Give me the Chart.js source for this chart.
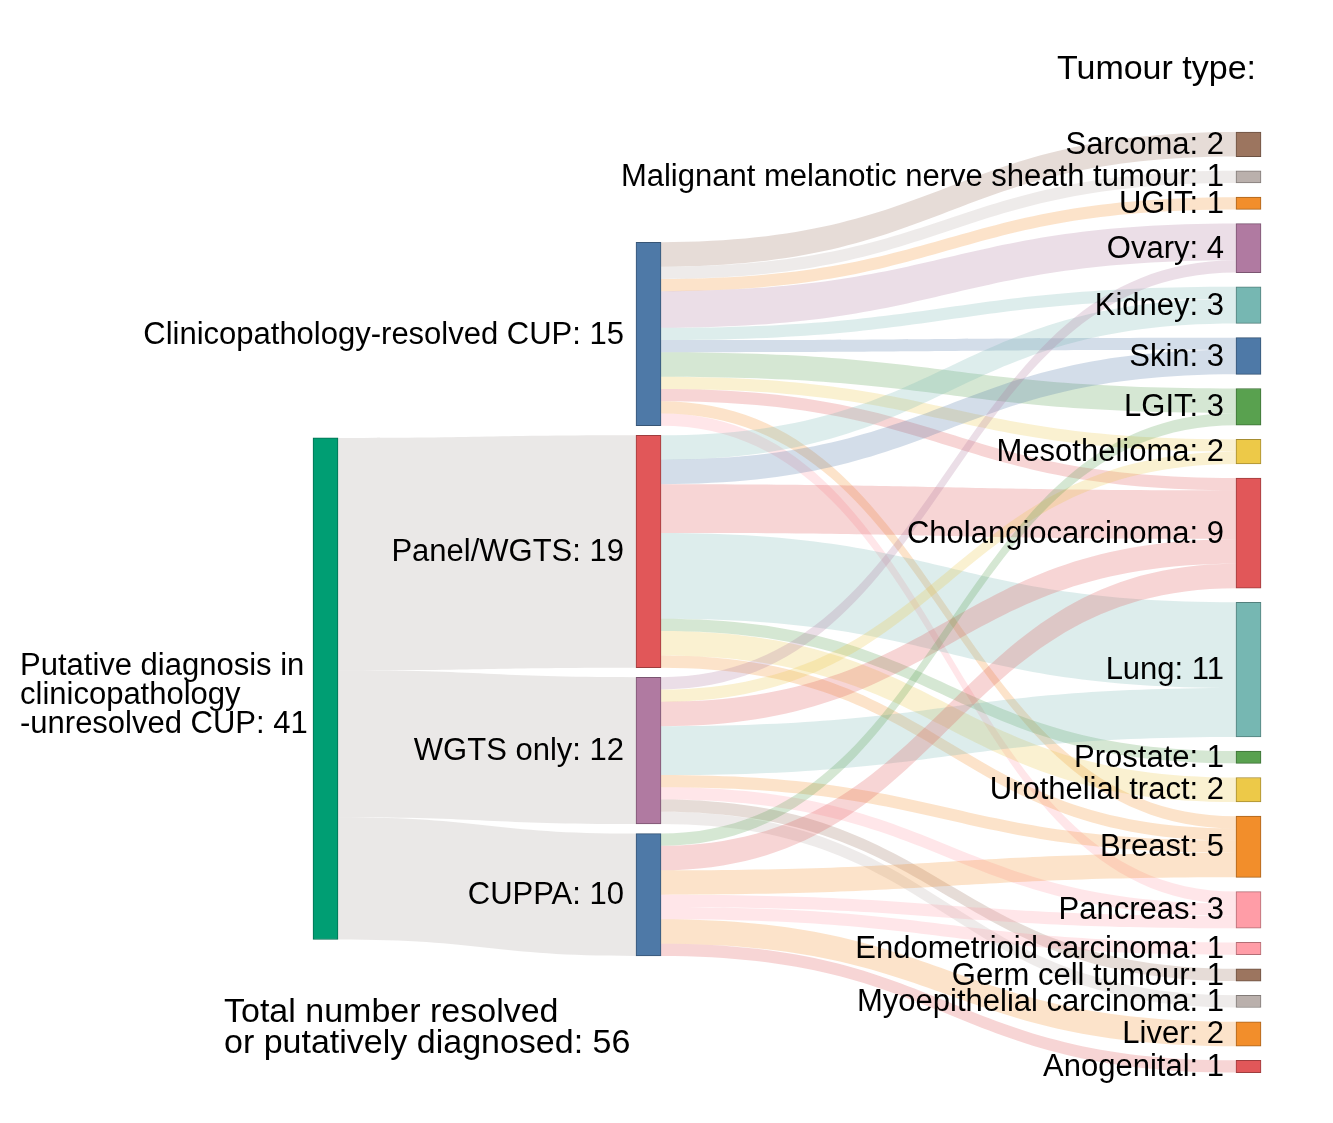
<!DOCTYPE html>
<html>
<head>
<meta charset="utf-8">
<script src="https://cdn.jsdelivr.net/npm/chart.js@4.4.0/dist/chart.umd.min.js"></script>
<style>
  html, body { margin: 0; padding: 0; background: #ffffff; }
  #wrap { width: 1333px; height: 1123px; position: relative; }
</style>
</head>
<body>
<div id="wrap"><canvas id="c" width="1333" height="1123"></canvas></div>
<script>
// ---------------- DATA ----------------
const rootNode = 'Putative diagnosis in clinicopathology-unresolved CUP';
const rootLabelLines = ['Putative diagnosis in', 'clinicopathology', '-unresolved CUP'];
const methods = ['Clinicopathology-resolved CUP', 'Panel/WGTS', 'WGTS only', 'CUPPA'];
const rootToMethod = [0, 19, 12, 10];

const tumourTypes = [
  'Sarcoma', 'Malignant melanotic nerve sheath tumour', 'UGIT', 'Ovary', 'Kidney', 'Skin',
  'LGIT', 'Mesothelioma', 'Cholangiocarcinoma', 'Lung', 'Prostate', 'Urothelial tract',
  'Breast', 'Pancreas', 'Endometrioid carcinoma', 'Germ cell tumour', 'Myoepithelial carcinoma',
  'Liver', 'Anogenital'
];
// cases per tumour type, by method (same order as tumourTypes)
const fromClinico = [2, 1, 1, 3, 1, 1, 2, 1, 1, 0, 0, 0, 1, 1, 0, 0, 0, 0, 0];
const fromPanel   = [0, 0, 0, 0, 2, 2, 0, 0, 4, 7, 1, 2, 1, 0, 0, 0, 0, 0, 0];
const fromWGTS    = [0, 0, 0, 1, 0, 0, 0, 1, 2, 4, 0, 0, 1, 1, 0, 1, 1, 0, 0];
const fromCUPPA   = [0, 0, 0, 0, 0, 0, 1, 0, 2, 0, 0, 0, 2, 1, 1, 0, 0, 2, 1];

const rootColor = '#009e73';
const methodColors = ['#4e79a7', '#e15759', '#b07aa1', '#4e79a7'];
const tumourColors = [
  '#9c755f', '#bab0ac', '#f28e2b', '#b07aa1', '#76b7b2', '#4e79a7',
  '#59a14f', '#edc948', '#e15759', '#76b7b2', '#59a14f', '#edc948',
  '#f28e2b', '#ff9da7', '#ff9da7', '#9c755f', '#bab0ac', '#f28e2b', '#e15759'
];
const tumourTitle = 'Tumour type:';
const footerLines = ['Total number resolved', 'or putatively diagnosed'];

// ---------------- LAYOUT (sankey, in value units) ----------------
const Y_MAX = 91.8;              // y-scale range in value units
const X_MAX = 1333;
const COL_X = [325.5, 648.5, 1248.5];
const COL_START = [35.8, 19.8, 10.8];
const COL_GAP = [0, 0.78, 1.16];
const NODE_W = 25;

const fromMethod = [fromClinico, fromPanel, fromWGTS, fromCUPPA];
const nodes = [];
nodes.push({ name: rootNode, col: 0, color: rootColor, value: rootToMethod.reduce((a, b) => a + b, 0) });
methods.forEach((m, i) => nodes.push({ name: m, col: 1, color: methodColors[i],
  value: Math.max(rootToMethod[i], fromMethod[i].reduce((a, b) => a + b, 0)) }));
tumourTypes.forEach((t, j) => nodes.push({ name: t, col: 2, color: tumourColors[j],
  value: fromMethod.reduce((s, arr) => s + arr[j], 0) }));

[0, 1, 2].forEach(col => {
  let y = COL_START[col];
  nodes.filter(n => n.col === col).forEach(n => {
    n.y0 = y; n.y1 = y + n.value; y = n.y1 + COL_GAP[col];
    n.outOff = n.y0; n.inOff = n.y0;
  });
});

function hexA(hex, a) {
  const r = parseInt(hex.slice(1, 3), 16), g = parseInt(hex.slice(3, 5), 16), b = parseInt(hex.slice(5, 7), 16);
  return `rgba(${r},${g},${b},${a})`;
}
function darker(hex, f) {
  const r = parseInt(hex.slice(1, 3), 16), g = parseInt(hex.slice(3, 5), 16), b = parseInt(hex.slice(5, 7), 16);
  return `rgb(${Math.round(r * f)},${Math.round(g * f)},${Math.round(b * f)})`;
}

const links = [];
rootToMethod.forEach((v, i) => { if (v > 0) links.push({ s: 0, t: 1 + i, v, color: 'rgba(186,180,174,0.3)' }); });
fromMethod.forEach((arr, i) => arr.forEach((v, j) => {
  if (v > 0) links.push({ s: 1 + i, t: 5 + j, v, color: hexA(tumourColors[j], 0.25) });
}));
links.forEach(l => {
  const s = nodes[l.s], t = nodes[l.t];
  l.sy0 = s.outOff; l.sy1 = s.outOff + l.v; s.outOff += l.v;
  l.ty0 = t.inOff; l.ty1 = t.inOff + l.v; t.inOff += l.v;
});

// ---------------- PLUGINS ----------------
const FONT = '"Liberation Sans", Arial, Helvetica, sans-serif';

const linkPlugin = {
  id: 'sankeyLinks',
  beforeDatasetsDraw(chart) {
    const xs = chart.scales.x, ys = chart.scales.y, ctx = chart.ctx;
    ctx.save();
    links.forEach(l => {
      const s = nodes[l.s], t = nodes[l.t];
      const x0 = xs.getPixelForValue(COL_X[s.col]) + NODE_W / 2;
      const x1 = xs.getPixelForValue(COL_X[t.col]) - NODE_W / 2;
      const xm = (x0 + x1) / 2;
      const a0 = ys.getPixelForValue(l.sy0), a1 = ys.getPixelForValue(l.sy1);
      const b0 = ys.getPixelForValue(l.ty0), b1 = ys.getPixelForValue(l.ty1);
      ctx.beginPath();
      ctx.moveTo(x0, a0);
      ctx.bezierCurveTo(xm, a0, xm, b0, x1, b0);
      ctx.lineTo(x1, b1);
      ctx.bezierCurveTo(xm, b1, xm, a1, x0, a1);
      ctx.closePath();
      ctx.fillStyle = l.color;
      ctx.fill();
    });
    ctx.restore();
  }
};

const labelPlugin = {
  id: 'sankeyLabels',
  afterDatasetsDraw(chart) {
    const xs = chart.scales.x, ys = chart.scales.y, ctx = chart.ctx;
    ctx.save();
    ctx.fillStyle = '#000000';
    ctx.textBaseline = 'middle';
    ctx.font = '31px ' + FONT;
    nodes.forEach((n) => {
      const cy = ys.getPixelForValue((n.y0 + n.y1) / 2);
      const xl = xs.getPixelForValue(COL_X[n.col]) - NODE_W / 2;
      if (n.col === 0) {
        ctx.textAlign = 'left';
        const lines = rootLabelLines.slice();
        lines[lines.length - 1] += ': ' + n.value;
        const lh = 29;
        lines.forEach((ln, k) => ctx.fillText(ln, 20, cy + 7 + (k - (lines.length - 1) / 2) * lh));
      } else {
        ctx.textAlign = 'right';
        ctx.fillText(n.name + ': ' + n.value, xl - 12, cy + 1);
      }
    });
    // column title
    ctx.font = '34px ' + FONT;
    ctx.textAlign = 'right';
    ctx.fillText(tumourTitle, xs.getPixelForValue(COL_X[2]) + NODE_W / 2 - 5, ys.getPixelForValue(5.7));
    // footer
    ctx.textAlign = 'left';
    const total = nodes.filter(n => n.col === 2).reduce((s, n) => s + n.value, 0);
    const fl = footerLines.slice();
    fl[fl.length - 1] += ': ' + total;
    fl.forEach((ln, k) => ctx.fillText(ln, 224, ys.getPixelForValue(82.75) + k * 31));
    ctx.restore();
  }
};

// ---------------- CHART ----------------
new Chart(document.getElementById('c'), {
  type: 'bar',
  data: {
    datasets: [{
      data: nodes.map(n => ({ x: COL_X[n.col], y: [n.y0, n.y1] })),
      backgroundColor: nodes.map(n => n.color),
      borderColor: nodes.map(n => darker(n.color, 0.7)),
      borderWidth: 1,
      borderSkipped: false,
      barThickness: NODE_W
    }]
  },
  options: {
    responsive: false,
    animation: false,
    devicePixelRatio: 1,
    events: [],
    layout: { padding: 0 },
    plugins: { legend: { display: false }, tooltip: { enabled: false } },
    scales: {
      x: { type: 'linear', min: 0, max: X_MAX, offset: false, display: false },
      y: { type: 'linear', min: 0, max: Y_MAX, reverse: true, display: false }
    }
  },
  plugins: [linkPlugin, labelPlugin]
});
</script>
</body>
</html>
